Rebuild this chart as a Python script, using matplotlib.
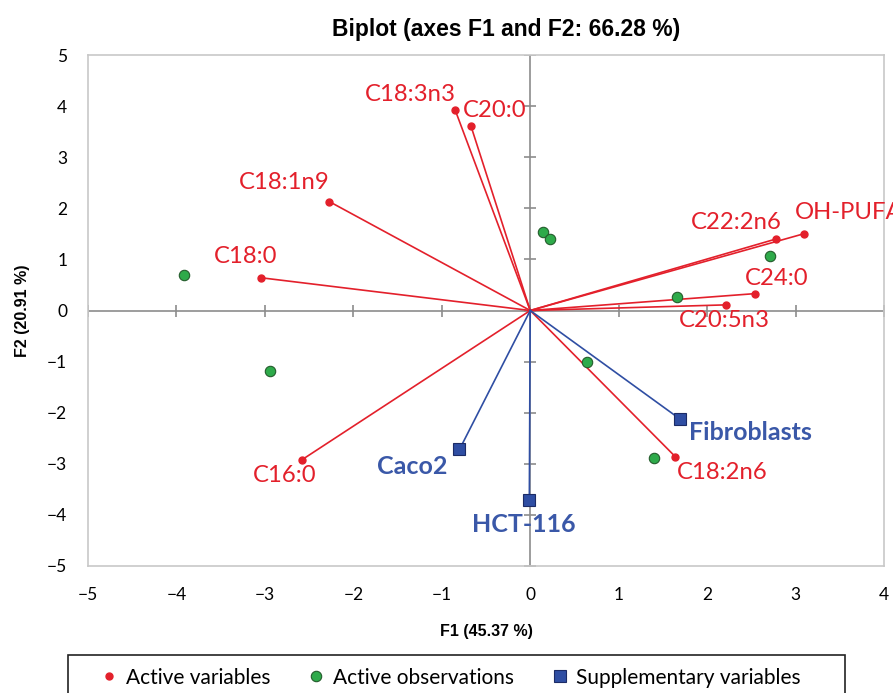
import matplotlib
matplotlib.use("Agg")
import matplotlib.pyplot as plt
from matplotlib.lines import Line2D
from matplotlib.patches import Rectangle

# active variables (red vectors)
var_names = ['C18:3n3', 'C20:0', 'C18:1n9', 'C18:0', 'C16:0',
             'C22:2n6', 'OH-PUFA', 'C24:0', 'C20:5n3', 'C18:2n6']
var_f1 = [-0.85, -0.67, -2.27, -3.04, -2.58, 2.78, 3.09, 2.54, 2.21, 1.64]
var_f2 = [3.93, 3.61, 2.13, 0.64, -2.92, 1.40, 1.50, 0.33, 0.11, -2.86]

# active observations (green points)
obs_f1 = [-3.91, -2.94, 0.15, 0.22, 2.71, 1.66, 0.64, 1.40]
obs_f2 = [0.70, -1.19, 1.53, 1.40, 1.06, 0.27, -1.01, -2.89]

# supplementary variables (blue vectors)
sup_names = ['Fibroblasts', 'Caco2', 'HCT-116']
sup_f1 = [1.69, -0.80, -0.01]
sup_f2 = [-2.12, -2.72, -3.70]

xticks = [-5, -4, -3, -2, -1, 0, 1, 2, 3, 4]
yticks = [-5, -4, -3, -2, -1, 0, 1, 2, 3, 4, 5]

# label offsets in pixels (dx, dy, ha)
var_off = [(-45, 15, 'center'), (24, 16, 'center'), (-45, 19, 'center'),
           (-16, 21, 'center'), (-17, -16, 'center'), (-40, 16, 'center'),
           (-9, 21, 'left'), (22, 15, 'center'), (-1, -16, 'center'),
           (47, -16, 'center')]
sup_off = [(9, -14, 'left'), (-47, -17, 'center'), (-6, -25, 'center')]

red = '#e3202b'
green = '#2eaa4a'
blue = '#2f4ea3'
blue_txt = '#3a58a8'
lab_font = 'Lato'

fig = plt.figure(figsize=(8.93, 6.93), dpi=100)
ax = fig.add_axes([88/893, 1-566/693, (884-88)/893, (566-55)/693])

ax.axhline(0, color='#8c8c8c', lw=1.2, zorder=1)
ax.axvline(0, color='#8c8c8c', lw=1.2, zorder=1)
# crossing ticks on the zero lines
ax.plot(xticks, [0]*len(xticks), ls='none', marker='|', ms=8, mew=1.2,
        color='#8c8c8c', zorder=1)
ax.plot([0]*len(yticks), yticks, ls='none', marker='_', ms=8, mew=1.2,
        color='#8c8c8c', zorder=1)

for x, y in zip(var_f1, var_f2):
    ax.plot([0, x], [0, y], color=red, lw=1.2, zorder=2)
for x, y in zip(sup_f1, sup_f2):
    ax.plot([0, x], [0, y], color=blue, lw=1.2, zorder=2)

ax.plot(var_f1, var_f2, 'o', ms=5, color=red, zorder=4)
ax.plot(obs_f1, obs_f2, 'o', ms=7.5, mfc=green, mec='#245c2c', mew=0.8, zorder=4)
ax.plot(sup_f1, sup_f2, 's', ms=9, mfc=blue, mec='#1c2b66', mew=0.8, zorder=4)

for name, x, y, (dx, dy, ha) in zip(var_names, var_f1, var_f2, var_off):
    ax.annotate(name, (x, y), xytext=(dx, dy), textcoords='offset pixels',
                ha=ha, va='center', color=red, fontsize=17.2,
                family=lab_font, zorder=5)
for name, x, y, (dx, dy, ha) in zip(sup_names, sup_f1, sup_f2, sup_off):
    ax.annotate(name, (x, y), xytext=(dx, dy), textcoords='offset pixels',
                ha=ha, va='center', color=blue_txt, fontsize=18,
                family=lab_font, fontweight='bold', zorder=5)

ax.set_xlim(-5, 4)
ax.set_ylim(-5, 5)
ax.set_xticks(xticks)
ax.set_yticks(yticks)
ax.tick_params(length=0, labelsize=12.5, pad=15)
for lab in ax.get_xticklabels() + ax.get_yticklabels():
    lab.set_family(lab_font)
for s in ax.spines.values():
    s.set_color('#c8c8c8')
    s.set_linewidth(1.2)

ax.set_title('Biplot (axes F1 and F2: 66.28 %)', fontsize=16.5,
             fontweight='bold', family='Liberation Sans', pad=14, x=0.525)
ax.set_xlabel('F1 (45.37 %)', fontsize=11.5, fontweight='bold',
              family='Liberation Sans', labelpad=15)
ax.set_ylabel('F2 (20.91 %)', fontsize=11.5, fontweight='bold',
              family='Liberation Sans', labelpad=12)

# legend box
fig.patches.append(Rectangle((68/893, -0.02), 777/893, 1-655/693+0.02,
                             transform=fig.transFigure, fill=False,
                             edgecolor='#222222', lw=1.2))
handles = [
    Line2D([], [], ls='none', marker='o', ms=5, color=red),
    Line2D([], [], ls='none', marker='o', ms=7.5, mfc=green, mec='#245c2c', mew=0.8),
    Line2D([], [], ls='none', marker='s', ms=9, mfc=blue, mec='#1c2b66', mew=0.8),
]
fig.legend(handles, ['Active variables', 'Active observations',
                     'Supplementary variables'],
           loc='center', bbox_to_anchor=(0.505, 0.022), ncol=3,
           frameon=False, prop={'family': lab_font, 'size': 15},
           handlelength=0.8, handletextpad=0.4, columnspacing=1.8)

fig.savefig('out.png', dpi=100)
